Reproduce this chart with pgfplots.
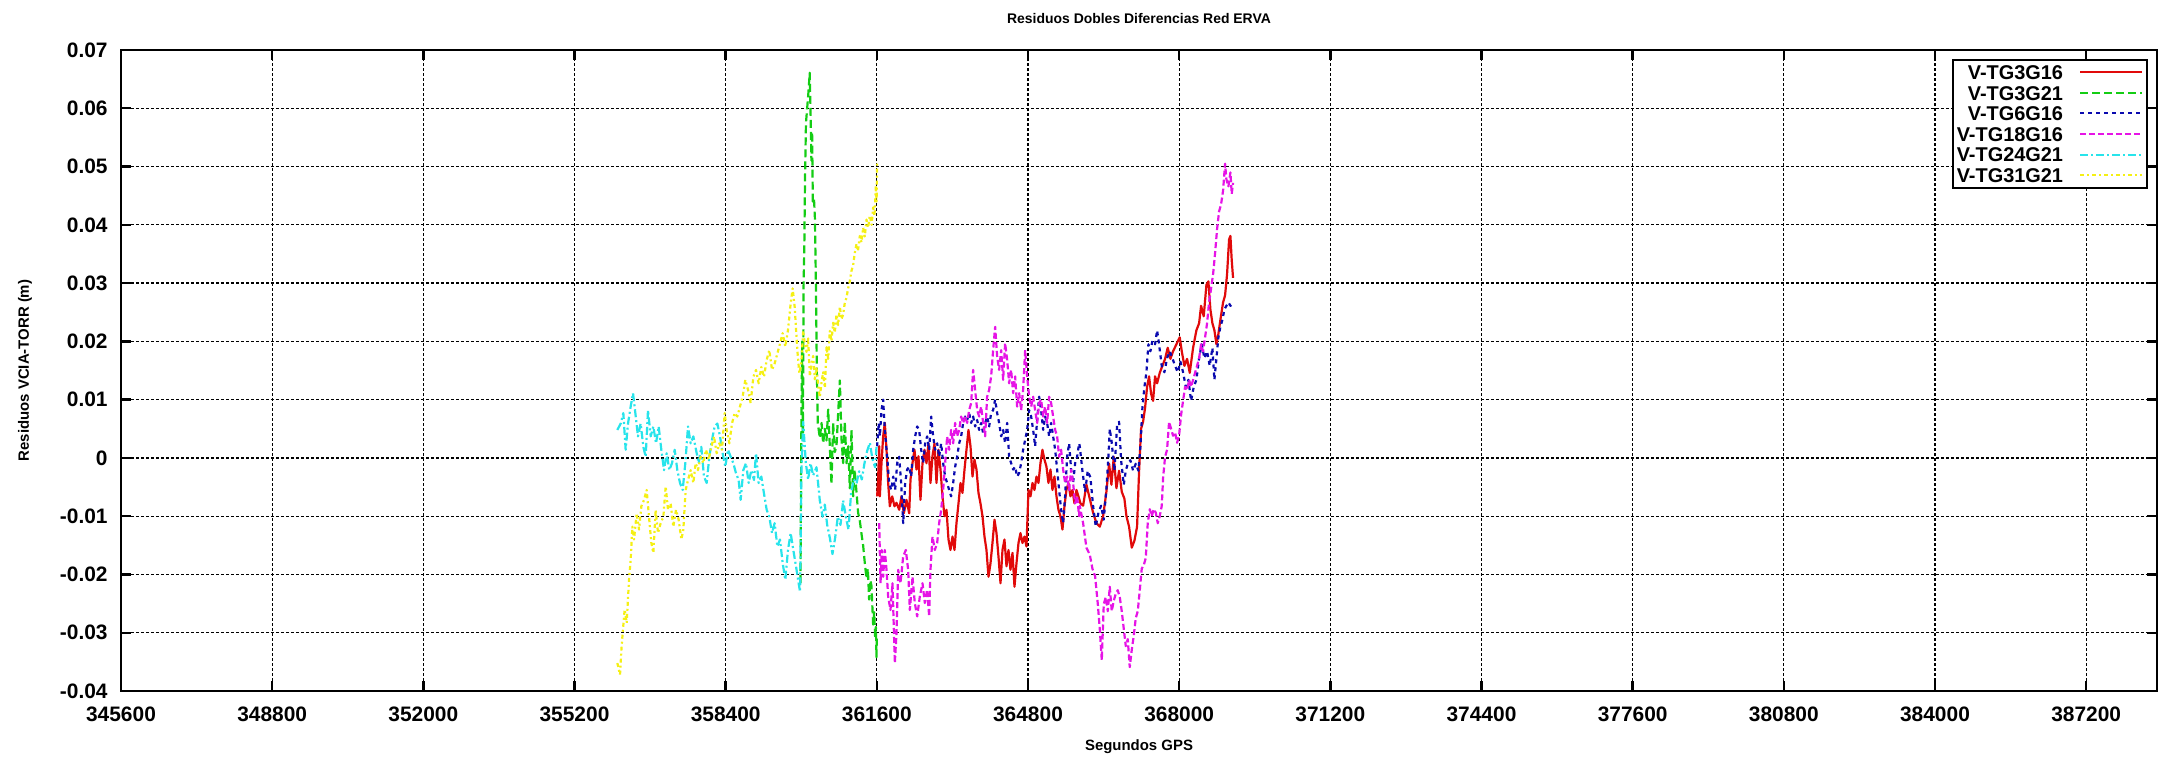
\documentclass[border=0pt]{standalone}
\usepackage{fontspec}
\setmainfont{Liberation Sans}
\usepackage{pgfplots}
\pgfplotsset{compat=1.18}
\definecolor{cred}{RGB}{225,10,10}
\definecolor{cgreen}{RGB}{20,205,20}
\definecolor{cblue}{RGB}{10,10,175}
\definecolor{cmag}{RGB}{230,20,230}
\definecolor{ccyan}{RGB}{40,228,235}
\definecolor{cyel}{RGB}{245,240,20}
\begin{document}
\begin{tikzpicture}
\begin{axis}[
  name=ax, anchor=south west, at={(0,0)},
  width=1018bp, height=320.5bp, scale only axis,
  xmin=345600, xmax=388700, ymin=-0.04, ymax=0.07,
  xtick={345600,348800,352000,355200,358400,361600,364800,368000,371200,374400,377600,380800,384000,387200},
  xticklabels={345600,348800,352000,355200,358400,361600,364800,368000,371200,374400,377600,380800,384000,387200},
  ytick={-0.04,-0.03,-0.02,-0.01,0,0.01,0.02,0.03,0.04,0.05,0.06,0.07},
  yticklabels={-0.04,-0.03,-0.02,-0.01,0,0.01,0.02,0.03,0.04,0.05,0.06,0.07},
  scaled x ticks=false, scaled y ticks=false,
  tick align=inside, major tick length=5bp,
  grid=major,
  major grid style={black, line width=0.6bp, dash pattern=on 1.5bp off 1bp},
  axis line style={line width=1.2bp},
  every tick/.style={black, line width=1.2bp},
  ticklabel style={font=\fontsize{10.5}{11}\selectfont\bfseries},
  yticklabel style={anchor=east, inner sep=0pt, xshift=-6.5bp},
  xticklabel style={anchor=center, inner sep=0pt, yshift=-11.5bp},
  title={Residuos Dobles Diferencias Red ERVA},
  title style={at={(axis description cs:0.5,1)}, anchor=center, yshift=10bp, font=\fontsize{7}{8}\selectfont\bfseries},
  xlabel={Segundos GPS},
  xlabel style={at={(axis description cs:0.5,0)}, anchor=center, yshift=-28bp, font=\fontsize{7.5}{8}\selectfont\bfseries},
  ylabel={Residuos VCIA-TORR (m)},
  ylabel style={at={(axis description cs:-0.04715,0.5)}, anchor=center, font=\fontsize{7.5}{8}\selectfont\bfseries},
  legend style={at={(axis description cs:0.9956,0.986)}, anchor=north east, draw=black, line width=1bp, fill=white,
    inner xsep=2bp, inner ysep=1bp, row sep=0pt, column sep=8bp,
    font=\fontsize{10}{10}\selectfont\bfseries,
    nodes={inner sep=0pt, minimum height=10.3bp, text height=7.3bp, text depth=0pt}},
  legend cell align=right, legend plot pos=right,
  legend image code/.code={\draw[line width=1bp,#1] (0bp,0bp) -- (31bp,0bp);},
  every axis plot/.append style={line width=1.1bp, line join=round},
]
% V-TG3G16
\addplot[cred, solid] coordinates {
(361607,-0.0066) (361630,-0.0030) (361650,0.0020) (361664,-0.0066) (361699,-0.0009) (361734,0.0037) (361769,0.0060) (361805,0.0014) (361840,-0.0043) (361875,-0.0083) (361925,-0.0066) (361974,-0.0083) (362016,-0.0077) (362073,-0.0089) (362122,-0.0066) (362172,-0.0095) (362228,-0.0072) (362285,-0.0095) (362313,-0.0037) (362355,-0.0009) (362397,0.0014) (362440,-0.0020) (362482,0.0003) (362524,-0.0072) (362567,-0.0009) (362609,0.0014) (362651,-0.0009) (362694,0.0025) (362736,-0.0043) (362778,0.0003) (362821,0.0025) (362863,-0.0043) (362905,0.0014) (362948,-0.0020) (362990,-0.0066) (363032,-0.0100) (363075,-0.0089) (363117,-0.0140) (363159,-0.0158) (363202,-0.0135) (363244,-0.0158) (363286,-0.0112) (363329,-0.0078) (363371,-0.0043) (363413,-0.0060) (363456,-0.0020) (363498,0.0014) (363540,0.0048) (363583,0.0020) (363625,-0.0032) (363667,-0.0003) (363710,-0.0020) (363752,-0.0060) (363794,-0.0078) (363837,-0.0100) (363879,-0.0135) (363921,-0.0158) (363964,-0.0204) (364006,-0.0181) (364048,-0.0146) (364091,-0.0106) (364133,-0.0129) (364175,-0.0169) (364218,-0.0215) (364260,-0.0158) (364302,-0.0140) (364345,-0.0186) (364387,-0.0158) (364429,-0.0192) (364472,-0.0163) (364514,-0.0221) (364556,-0.0181) (364599,-0.0146) (364641,-0.0129) (364683,-0.0146) (364726,-0.0135) (364768,-0.0152) (364810,-0.0055) (364853,-0.0066) (364895,-0.0043) (364937,-0.0055) (364980,-0.0032) (365022,-0.0043) (365064,-0.0009) (365106,0.0014) (365149,-0.0003) (365191,-0.0015) (365233,-0.0043) (365276,-0.0020) (365318,-0.0055) (365360,-0.0032) (365403,-0.0066) (365445,-0.0089) (365487,-0.0100) (365530,-0.0123) (365572,-0.0083) (365614,-0.0055) (365657,-0.0043) (365699,-0.0066) (365741,-0.0055) (365784,-0.0078) (365826,-0.0055) (365868,-0.0066) (365911,-0.0078) (365967,-0.0082) (366037,-0.0046) (366108,-0.0070) (366178,-0.0094) (366249,-0.0112) (366319,-0.0118) (366390,-0.0100) (366460,-0.0058) (366517,-0.0010) (366566,-0.0046) (366616,0.0002) (366672,-0.0052) (366728,-0.0022) (366785,-0.0058) (366841,-0.0070) (366884,-0.0100) (366940,-0.0118) (366997,-0.0154) (367053,-0.0142) (367109,-0.0118) (367152,-0.0022) (367194,0.0050) (367236,0.0062) (367279,0.0086) (367321,0.0122) (367363,0.0140) (367406,0.0110) (367448,0.0098) (367490,0.0140) (367533,0.0128) (367589,0.0146) (367645,0.0158) (367702,0.0170) (367758,0.0189) (367815,0.0170) (367871,0.0183) (367942,0.0195) (368012,0.0207) (368055,0.0183) (368111,0.0158) (368168,0.0170) (368224,0.0146) (368295,0.0189) (368365,0.0219) (368422,0.0231) (368464,0.0261) (368520,0.0243) (368577,0.0297) (368619,0.0303) (368661,0.0255) (368704,0.0231) (368746,0.0219) (368789,0.0195) (368831,0.0213) (368873,0.0237) (368930,0.0267) (368972,0.0279) (369014,0.0315) (369057,0.0375) (369085,0.0381) (369113,0.0339) (369141,0.0309)
};
\addlegendentry{V-TG3G16}
% V-TG3G21
\addplot[cgreen, dash pattern=on 4bp off 2bp] coordinates {
(359984,-0.0215) (359995,-0.0050) (360005,0.0080) (360020,0.0200) (360035,0.0030) (360050,0.0300) (360065,0.0360) (360080,0.0480) (360100,0.0575) (360125,0.0600) (360150,0.0625) (360180,0.0661) (360200,0.0580) (360215,0.0510) (360230,0.0560) (360245,0.0440) (360270,0.0445) (360290,0.0410) (360310,0.0300) (360330,0.0150) (360350,0.0060) (360393,0.0034) (360430,0.0060) (360464,0.0025) (360500,0.0050) (360535,0.0030) (360570,0.0083) (360605,0.0020) (360640,-0.0045) (360675,0.0060) (360710,0.0010) (360746,0.0020) (360781,0.0076) (360817,0.0133) (360852,0.0033) (360887,-0.0009) (360922,0.0062) (360958,-0.0009) (360995,0.0020) (361028,-0.0052) (361064,0.0048) (361099,-0.0066) (361130,-0.0020) (361155,-0.0044) (361204,-0.0094) (361240,-0.0108) (361275,-0.0130) (361310,-0.0150) (361345,-0.0180) (361381,-0.0207) (361410,-0.0190) (361437,-0.0243) (361465,-0.0210) (361487,-0.0220) (361522,-0.0286) (361545,-0.0265) (361564,-0.0307) (361580,-0.0290) (361593,-0.0342) (361600,-0.0310)
};
\addlegendentry{V-TG3G21}
% V-TG6G16
\addplot[cblue, dash pattern=on 2bp off 2bp] coordinates {
(361607,0.0020) (361640,0.0060) (361664,0.0037) (361699,0.0082) (361734,0.0100) (361769,0.0048) (361819,0.0002) (361861,-0.0043) (361904,-0.0055) (361946,-0.0032) (361988,-0.0055) (362031,-0.0009) (362073,0.0002) (362115,-0.0043) (362158,-0.0112) (362200,-0.0043) (362242,-0.0020) (362285,-0.0015) (362327,-0.0032) (362369,0.0014) (362412,0.0037) (362454,0.0054) (362496,0.0048) (362539,0.0014) (362581,-0.0009) (362623,0.0025) (362665,0.0037) (362708,0.0014) (362750,0.0071) (362792,0.0037) (362835,0.0014) (362877,0.0025) (362919,0.0002) (362962,0.0025) (363004,-0.0009) (363046,-0.0032) (363089,-0.0043) (363131,-0.0055) (363173,-0.0066) (363216,-0.0043) (363258,-0.0015) (363300,0.0002) (363343,0.0025) (363385,0.0037) (363427,0.0060) (363470,0.0071) (363512,0.0065) (363554,0.0077) (363597,0.0060) (363639,0.0071) (363681,0.0054) (363724,0.0065) (363766,0.0048) (363808,0.0060) (363851,0.0042) (363893,0.0060) (363935,0.0071) (363978,0.0054) (364020,0.0077) (364062,0.0082) (364105,0.0100) (364147,0.0077) (364189,0.0060) (364232,0.0037) (364274,0.0048) (364316,0.0025) (364359,0.0060) (364401,0.0002) (364443,-0.0009) (364486,-0.0020) (364528,-0.0015) (364570,-0.0032) (364613,-0.0026) (364655,-0.0009) (364697,0.0014) (364740,0.0031) (364782,0.0048) (364824,0.0082) (364867,0.0071) (364909,0.0048) (364951,0.0020) (364994,0.0065) (365036,0.0105) (365078,0.0082) (365121,0.0048) (365163,0.0071) (365205,0.0060) (365248,0.0037) (365290,0.0060) (365332,0.0037) (365375,0.0014) (365417,-0.0020) (365459,-0.0055) (365501,-0.0089) (365544,-0.0112) (365586,-0.0066) (365628,0.0002) (365671,0.0025) (365713,-0.0020) (365755,-0.0043) (365798,-0.0009) (365840,0.0002) (365882,0.0025) (365896,0.0020) (365952,-0.0022) (366009,-0.0058) (366065,-0.0022) (366122,-0.0034) (366178,-0.0082) (366235,-0.0118) (366291,-0.0094) (366347,-0.0082) (366404,-0.0106) (366460,-0.0052) (366503,0.0002) (366531,0.0050) (366573,0.0026) (366630,-0.0022) (366686,0.0056) (366728,0.0062) (366771,-0.0004) (366827,-0.0046) (366870,-0.0022) (366912,-0.0010) (366968,-0.0004) (367025,-0.0022) (367081,-0.0010) (367138,-0.0022) (367180,0.0020) (367222,0.0086) (367265,0.0122) (367307,0.0147) (367349,0.0195) (367392,0.0183) (367434,0.0201) (367490,0.0195) (367533,0.0219) (367575,0.0195) (367631,0.0158) (367688,0.0147) (367744,0.0171) (367801,0.0183) (367857,0.0171) (367914,0.0158) (367970,0.0147) (368027,0.0165) (368083,0.0147) (368140,0.0122) (368196,0.0134) (368252,0.0098) (368309,0.0122) (368365,0.0134) (368422,0.0171) (368478,0.0195) (368535,0.0171) (368591,0.0183) (368647,0.0158) (368704,0.0189) (368746,0.0134) (368789,0.0171) (368831,0.0207) (368873,0.0225) (368916,0.0237) (368958,0.0255) (369000,0.0261) (369043,0.0267) (369085,0.0261) (369127,0.0264)
};
\addlegendentry{V-TG6G16}
% V-TG18G16
\addplot[cmag, dash pattern=on 3bp off 1.5bp] coordinates {
(361650,-0.0112) (361678,-0.0215) (361706,-0.0158) (361734,-0.0204) (361769,-0.0158) (361805,-0.0192) (361840,-0.0238) (361889,-0.0261) (361932,-0.0215) (361981,-0.0352) (362016,-0.0301) (362052,-0.0192) (362101,-0.0215) (362158,-0.0169) (362214,-0.0158) (362263,-0.0192) (362299,-0.0261) (362355,-0.0204) (362404,-0.0249) (362454,-0.0272) (362510,-0.0238) (362567,-0.0215) (362616,-0.0249) (362665,-0.0226) (362708,-0.0272) (362736,-0.0192) (362778,-0.0135) (362828,-0.0158) (362877,-0.0146) (362919,-0.0112) (362962,-0.0089) (363004,-0.0055) (363046,-0.0009) (363089,0.0037) (363131,0.0014) (363173,0.0048) (363216,0.0025) (363258,0.0060) (363300,0.0037) (363343,0.0048) (363385,0.0071) (363427,0.0060) (363470,0.0071) (363512,0.0060) (363554,0.0082) (363597,0.0094) (363639,0.0151) (363681,0.0117) (363724,0.0082) (363766,0.0071) (363808,0.0088) (363851,0.0060) (363893,0.0037) (363935,0.0105) (363978,0.0117) (364020,0.0140) (364062,0.0185) (364105,0.0225) (364147,0.0174) (364189,0.0151) (364232,0.0185) (364274,0.0134) (364316,0.0197) (364359,0.0168) (364401,0.0128) (364443,0.0151) (364486,0.0111) (364528,0.0140) (364570,0.0088) (364613,0.0111) (364655,0.0082) (364697,0.0117) (364740,0.0185) (364782,0.0140) (364824,0.0105) (364867,0.0088) (364909,0.0105) (364951,0.0082) (364994,0.0060) (365036,0.0094) (365078,0.0100) (365121,0.0071) (365163,0.0088) (365205,0.0060) (365248,0.0105) (365290,0.0094) (365332,0.0071) (365375,0.0048) (365417,0.0037) (365459,0.0002) (365501,0.0014) (365544,-0.0020) (365586,-0.0043) (365628,-0.0032) (365671,-0.0055) (365713,-0.0020) (365755,-0.0043) (365798,-0.0078) (365840,-0.0066) (365882,-0.0100) (365896,-0.0082) (365967,-0.0112) (366037,-0.0154) (366108,-0.0166) (366164,-0.0190) (366221,-0.0203) (366277,-0.0250) (366319,-0.0293) (366362,-0.0347) (366404,-0.0251) (366446,-0.0239) (366489,-0.0263) (366531,-0.0221) (366573,-0.0263) (366616,-0.0245) (366658,-0.0233) (366700,-0.0227) (366743,-0.0239) (366785,-0.0263) (366827,-0.0293) (366870,-0.0323) (366912,-0.0311) (366954,-0.0359) (366997,-0.0329) (367039,-0.0305) (367081,-0.0275) (367124,-0.0263) (367166,-0.0227) (367208,-0.0190) (367251,-0.0184) (367293,-0.0172) (367335,-0.0112) (367378,-0.0088) (367420,-0.0100) (367462,-0.0088) (367505,-0.0094) (367547,-0.0112) (367589,-0.0100) (367632,-0.0082) (367660,-0.0034) (367702,0.0002) (367744,0.0014) (367787,0.0062) (367829,0.0050) (367871,0.0038) (367914,0.0044) (367956,0.0026) (367998,0.0038) (368041,0.0074) (368083,0.0098) (368125,0.0122) (368168,0.0116) (368210,0.0134) (368252,0.0122) (368295,0.0134) (368337,0.0146) (368379,0.0158) (368422,0.0171) (368464,0.0195) (368506,0.0183) (368549,0.0207) (368591,0.0231) (368633,0.0267) (368676,0.0291) (368718,0.0315) (368760,0.0351) (368803,0.0393) (368845,0.0423) (368887,0.0435) (368930,0.0459) (368972,0.0505) (369000,0.0478) (369043,0.0466) (369085,0.0490) (369113,0.0453) (369141,0.0472)
};
\addlegendentry{V-TG18G16}
% V-TG24G21
\addplot[ccyan, dash pattern=on 4bp off 1.5bp on 1bp off 1.5bp] coordinates {
(356107,0.0048) (356178,0.0059) (356234,0.0077) (356283,0.0014) (356333,0.0059) (356389,0.0088) (356439,0.0111) (356488,0.0077) (356544,0.0037) (356601,0.0059) (356657,0.0019) (356707,0.0002) (356756,0.0082) (356813,0.0037) (356869,0.0054) (356926,0.0025) (356982,0.0054) (357038,0.0014) (357095,-0.0021) (357151,0.0008) (357208,-0.0021) (357264,-0.0009) (357321,0.0014) (357377,-0.0021) (357433,-0.0043) (357490,-0.0055) (357546,-0.0009) (357603,0.0054) (357659,0.0025) (357716,0.0037) (357772,0.0014) (357828,-0.0009) (357885,0.0019) (357941,-0.0032) (357998,-0.0043) (358054,0.0002) (358111,0.0031) (358167,0.0054) (358224,0.0059) (358280,0.0037) (358336,0.0008) (358393,-0.0015) (358449,0.0014) (358506,0.0002) (358562,-0.0009) (358618,-0.0026) (358675,-0.0038) (358717,-0.0072) (358774,-0.0021) (358830,-0.0009) (358887,-0.0043) (358943,-0.0021) (359000,-0.0038) (359042,0.0008) (359098,-0.0043) (359155,-0.0032) (359211,-0.0061) (359268,-0.0089) (359324,-0.0101) (359381,-0.0129) (359437,-0.0112) (359494,-0.0152) (359550,-0.0140) (359606,-0.0180) (359663,-0.0209) (359719,-0.0158) (359776,-0.0129) (359832,-0.0158) (359889,-0.0186) (359945,-0.0215) (359975,-0.0230) (360005,-0.0020) (360041,0.0062) (360097,-0.0009) (360146,-0.0037) (360196,-0.0009) (360252,-0.0030) (360323,-0.0016) (360393,-0.0073) (360450,-0.0101) (360499,-0.0080) (360549,-0.0115) (360605,-0.0137) (360661,-0.0165) (360718,-0.0137) (360774,-0.0101) (360831,-0.0115) (360887,-0.0073) (360944,-0.0101) (361000,-0.0123) (361056,-0.0059) (361113,-0.0037) (361169,-0.0044) (361226,-0.0023) (361282,-0.0037) (361339,-0.0009) (361395,0.0012) (361452,0.0026) (361508,-0.0002) (361564,-0.0016) (361593,0.0019)
};
\addlegendentry{V-TG24G21}
% V-TG31G21
\addplot[cyel, dash pattern=on 2bp off 1.5bp on 1bp off 1.5bp] coordinates {
(356107,-0.0352) (356164,-0.0372) (356193,-0.0329) (356220,-0.0300) (356262,-0.0260) (356305,-0.0283) (356354,-0.0209) (356389,-0.0175) (356425,-0.0118) (356460,-0.0140) (356516,-0.0095) (356566,-0.0123) (356615,-0.0083) (356672,-0.0072) (356728,-0.0055) (356777,-0.0101) (356827,-0.0146) (356869,-0.0163) (356919,-0.0089) (356968,-0.0129) (357024,-0.0112) (357081,-0.0101) (357130,-0.0049) (357180,-0.0089) (357236,-0.0078) (357292,-0.0118) (357349,-0.0089) (357405,-0.0106) (357462,-0.0140) (357504,-0.0123) (357553,-0.0055) (357603,-0.0038) (357659,-0.0021) (357716,-0.0043) (357765,-0.0009) (357814,-0.0021) (357871,0.0002) (357927,-0.0009) (357984,0.0014) (358040,-0.0003) (358097,0.0019) (358153,0.0037) (358210,0.0008) (358266,0.0025) (358322,0.0014) (358379,0.0077) (358421,0.0048) (358478,0.0025) (358534,0.0059) (358590,0.0077) (358647,0.0071) (358703,0.0088) (358760,0.0105) (358816,0.0134) (358873,0.0117) (358929,0.0094) (358986,0.0139) (359042,0.0151) (359098,0.0128) (359155,0.0156) (359211,0.0139) (359268,0.0168) (359324,0.0185) (359381,0.0151) (359437,0.0162) (359494,0.0179) (359550,0.0196) (359606,0.0214) (359663,0.0191) (359719,0.0219) (359776,0.0265) (359818,0.0291) (359861,0.0259) (359917,0.0185) (359959,0.0145) (360000,0.0161) (360041,0.0218) (360076,0.0195) (360111,0.0182) (360146,0.0205) (360182,0.0140) (360217,0.0160) (360252,0.0175) (360287,0.0135) (360323,0.0154) (360358,0.0125) (360393,0.0104) (360430,0.0130) (360464,0.0147) (360500,0.0120) (360535,0.0190) (360570,0.0170) (360605,0.0218) (360640,0.0200) (360675,0.0232) (360710,0.0215) (360746,0.0246) (360780,0.0228) (360817,0.0260) (360850,0.0238) (360887,0.0246) (360920,0.0265) (360958,0.0275) (360990,0.0290) (361028,0.0303) (361060,0.0320) (361099,0.0331) (361130,0.0350) (361169,0.0367) (361200,0.0355) (361240,0.0381) (361275,0.0370) (361310,0.0395) (361345,0.0380) (361381,0.0409) (361415,0.0395) (361452,0.0416) (361490,0.0400) (361522,0.0430) (361550,0.0415) (361579,0.0466) (361595,0.0440) (361607,0.0509)
};
\addlegendentry{V-TG31G21}
\end{axis}
\pgfresetboundingbox
\path[use as bounding box] (-60.5bp,-35bp) rectangle (1019bp,345.5bp);
\end{tikzpicture}
\end{document}
